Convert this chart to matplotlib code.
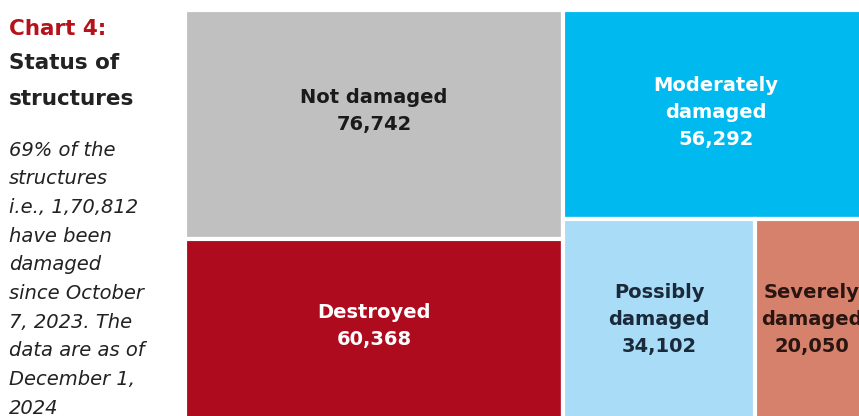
import matplotlib.pyplot as plt
from matplotlib.patches import Rectangle

# treemap data
labels = ['Not damaged', 'Destroyed', 'Moderately\ndamaged', 'Possibly\ndamaged', 'Severely\ndamaged']
values = [76742, 60368, 56292, 34102, 20050]
colors = ['#c1c0c0', '#ae0b1e', '#00baef', '#a9dcf6', '#d6816c']
text_colors = ['#1a1a1a', 'white', 'white', '#1a2a3a', '#2a1510']

notes = ['69% of the', 'structures', 'i.e., 1,70,812', 'have been', 'damaged',
         'since October', '7, 2023. The', 'data are as of', 'December 1,', '2024']

W, H = 859, 416
fig = plt.figure(figsize=(W / 100, H / 100), dpi=100)
fig.patch.set_facecolor('white')
FONT = 'DejaVu Sans'

# left text panel
fig.text(9 / W, 1 - 29 / H, 'Chart 4:', color='#b5121b', fontsize=15.5,
         fontweight='bold', family=FONT, va='center')
fig.text(9 / W, 1 - 63 / H, 'Status of', color='#222222', fontsize=15.5,
         fontweight='bold', family=FONT, va='center')
fig.text(9 / W, 1 - 99 / H, 'structures', color='#222222', fontsize=15.5,
         fontweight='bold', family=FONT, va='center')
for i, line in enumerate(notes):
    fig.text(9 / W, 1 - (150 + i * 28.7) / H, line, color='#222222', fontsize=14,
             style='italic', family=FONT, va='center')

# treemap axes (runs a bit past the right edge like the original crop)
ax = fig.add_axes([185 / W, -4 / H, 683 / W, 410 / H])
ax.set_xlim(0, 1)
ax.set_ylim(0, 1)
ax.axis('off')

total = sum(values)
left_total = values[0] + values[1]
right_total = sum(values[2:])
lw = left_total / total

rects = []
# left column: Not damaged on top, Destroyed below
h0 = values[0] / left_total
rects.append((0, 1 - h0, lw, h0))
rects.append((0, 0, lw, 1 - h0))
# right column: Moderately on top, then Possibly | Severely
h2 = values[2] / right_total
rects.append((lw, 1 - h2, 1 - lw, h2))
rw = values[3] / (values[3] + values[4]) * (1 - lw)
rects.append((lw, 0, rw, 1 - h2))
rects.append((lw + rw, 0, 1 - lw - rw, 1 - h2))

ypos = [0.56, 0.52, 0.51, 0.5, 0.5]
for (x, y, w, h), lab, v, c, tc, fy in zip(rects, labels, values, colors, text_colors, ypos):
    ax.add_patch(Rectangle((x, y), w, h, facecolor=c, edgecolor='white', linewidth=3))
    ax.text(x + w / 2, y + h * fy, f'{lab}\n{v:,}',
            ha='center', va='center', color=tc, fontsize=14, fontweight='bold',
            family=FONT, linespacing=1.55)

fig.savefig('out.png', dpi=100)
